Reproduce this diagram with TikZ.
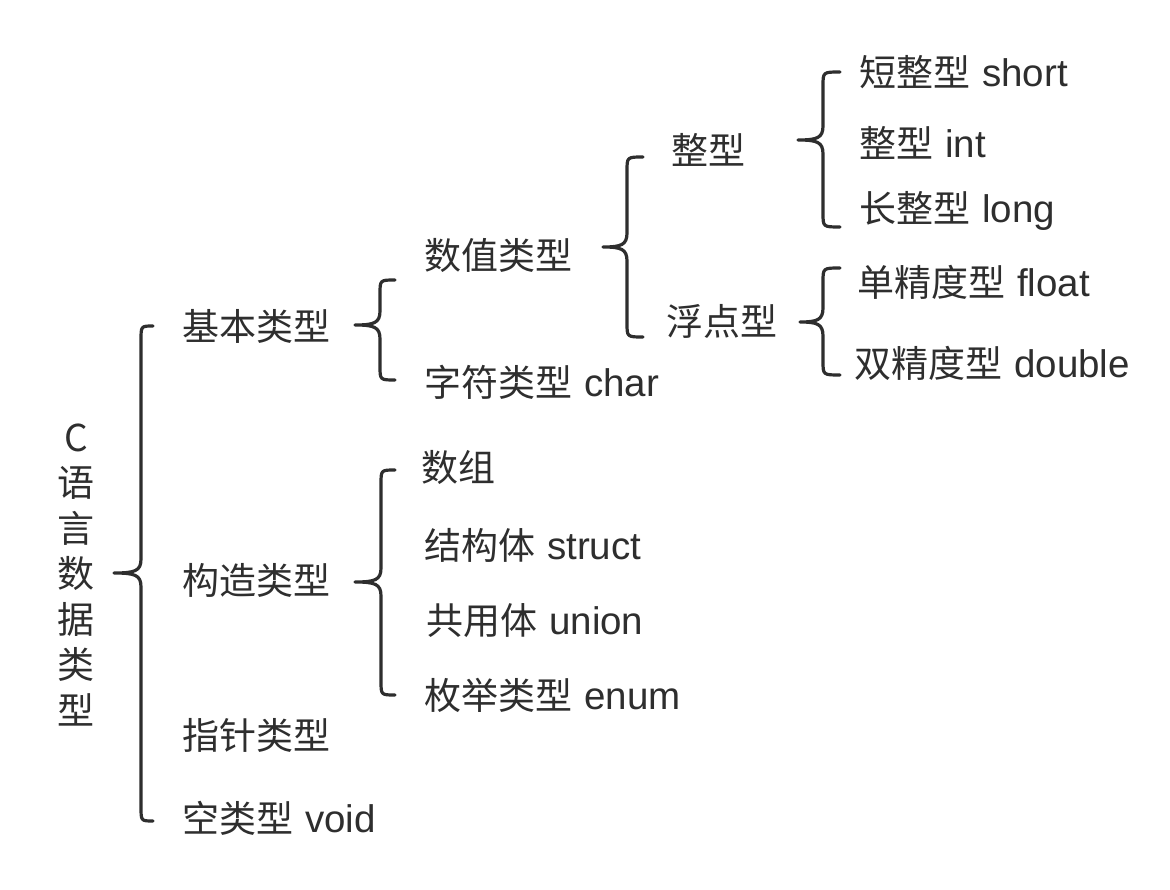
\documentclass[tikz,border=0pt]{standalone}
\usepackage{fontspec}
\setmainfont{Liberation Sans}
\newfontfamily\cjk{Noto Sans CJK SC}
\definecolor{ink}{HTML}{2E2E2E}
\newcommand\zh[1]{{\cjk\fontsize{37}{40}\selectfont #1}}
\newcommand\gap{\hspace{12pt}}
\newcommand\mybrace[6]{%
  % #1 end x, #2 line x, #3 tip x, #4 top y, #5 mid y, #6 bottom y
  \draw[bracestyle] (#1,#4) .. controls (#2,#4) .. (#2,#4+14)
    -- (#2,#5-14) .. controls (#2,#5-2) and (#2-6,#5) .. (#3,#5)
    .. controls (#2-6,#5) and (#2,#5+2) .. (#2,#5+14)
    -- (#2,#6-14) .. controls (#2,#6) .. (#1,#6);}
\begin{document}
\begin{tikzpicture}[x=1pt,y=-1pt,
  lbl/.style={anchor=west,inner sep=0pt,text=ink,font=\fontsize{38.5}{40}\selectfont},
  bracestyle/.style={draw=ink,line width=3.2pt,line cap=round,line join=round}]
\useasboundingbox[fill=white] (0,0) rectangle (1170,890);
% root
\node[inner sep=0pt,text=ink,align=center,font=\cjk\fontsize{37}{45.5}\selectfont] (root) at (76,575) {C\\语\\言\\数\\据\\类\\型};
% level 1
\node[lbl] (jiben) at (182,326) {\zh{基本类型}};
\node[lbl] (gouzao) at (182,580) {\zh{构造类型}};
\node[lbl] (zhizhen) at (182,735) {\zh{指针类型}};
\node[lbl] (kong) at (182,818) {\zh{空类型}\gap{}void};
% level 2
\node[lbl] (shuzhi) at (424,255) {\zh{数值类型}};
\node[lbl] (zifu) at (424,382) {\zh{字符类型}\gap{}char};
\node[lbl] (shuzu) at (421,467) {\zh{数组}};
\node[lbl] (jiegou) at (424,545) {\zh{结构体}\gap{}struct};
\node[lbl] (gongyong) at (426,621) {\zh{共用体}\gap{}union};
\node[lbl] (meiju) at (424,695) {\zh{枚举类型}\gap{}enum};
% level 3
\node[lbl] (zhengxing) at (671,150) {\zh{整型}};
\node[lbl] (fudian) at (666,321) {\zh{浮点型}};
% level 4
\node[lbl] (short) at (859,72) {\zh{短整型}\gap{}short};
\node[lbl] (int) at (859,143) {\zh{整型}\gap{}int};
\node[lbl] (long) at (859,211) {\zh{长整型}\gap{}long};
\node[lbl] (float) at (857,282) {\zh{单精度型}\gap{}float};
\node[lbl] (double) at (854,363) {\zh{双精度型}\gap{}double};
% braces
\mybrace{153}{141}{114}{326}{573}{821}
\mybrace{395}{380}{355}{280}{325}{380}
\mybrace{395}{381}{355}{470}{582}{695}
\mybrace{643}{627}{603}{157}{247}{337}
\mybrace{840}{823}{798}{72}{140}{227}
\mybrace{840}{823}{800}{268}{322}{375}
\end{tikzpicture}
\end{document}
